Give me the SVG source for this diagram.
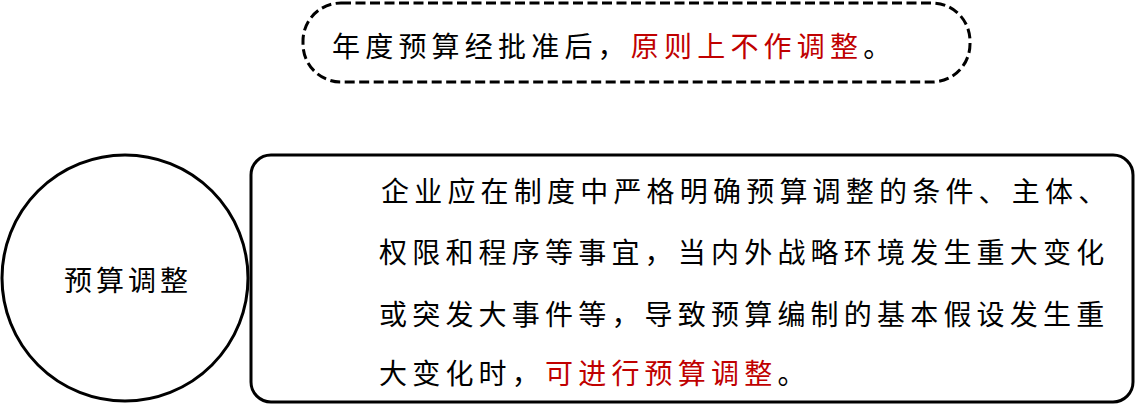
<svg xmlns="http://www.w3.org/2000/svg" width="1136" height="411" viewBox="0 0 1136 411">
<style>
.t{font-family:"Noto Sans CJK SC","Noto Sans CJK JP",sans-serif;font-size:28px;fill:#000;letter-spacing:5.2px}
.r{fill:#c00000}
.box{fill:#fff;stroke:#000;stroke-width:3}
</style>
<rect width="1136" height="411" fill="#fff"/>
<g id="note">
<rect class="box" x="303" y="3" width="667" height="79" rx="38" ry="38" stroke-width="4" stroke-dasharray="10 4.5"/>
<text class="t" x="332" y="57">年度预算经批准后，<tspan class="r">原则上不作调整</tspan>。</text>
</g>
<g id="topic">
<circle class="box" cx="125" cy="278" r="123"/>
<text class="t" x="128" y="291" text-anchor="middle" style="letter-spacing:4px">预算调整</text>
</g>
<g id="detail">
<rect class="box" x="251" y="155" width="882" height="247" rx="20" ry="20"/>
<text class="t" x="381" y="202">企业应在制度中严格明确预算调整的条件、主体、</text>
<text class="t" x="379" y="263">权限和程序等事宜，当内外战略环境发生重大变化</text>
<text class="t" x="379" y="325">或突发大事件等，导致预算编制的基本假设发生重</text>
<text class="t" x="379" y="384">大变化时，<tspan class="r">可进行预算调整</tspan>。</text>
</g>
<g id="connectors"/>
</svg>
